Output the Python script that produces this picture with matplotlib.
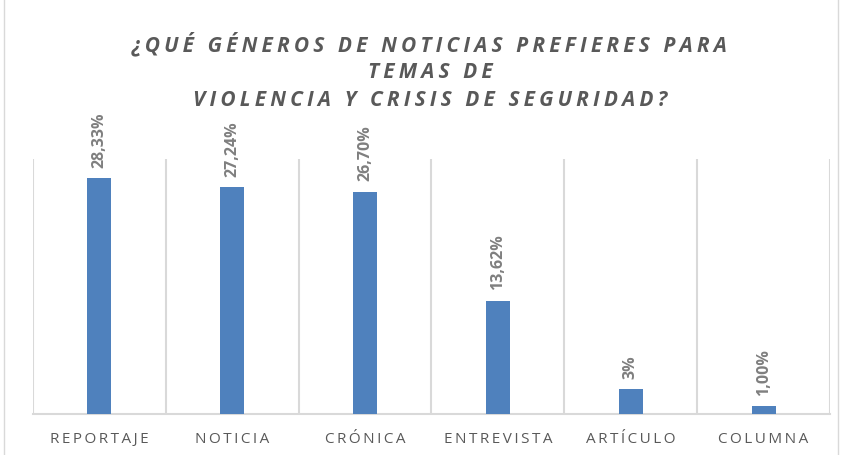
import matplotlib.pyplot as plt
from matplotlib.patches import Rectangle

categorias = ["REPORTAJE", "NOTICIA", "CRÓNICA", "ENTREVISTA", "ARTÍCULO", "COLUMNA"]
valores = [28.33, 27.24, 26.70, 13.62, 3.0, 1.00]
etiquetas = ["28,33%", "27,24%", "26,70%", "13,62%", "3%", "1,00%"]
titulo = ["¿QUÉ GÉNEROS DE NOTICIAS PREFIERES PARA", "TEMAS DE", "VIOLENCIA Y CRISIS DE SEGURIDAD?"]

def espaciar(txt, sep="\u2009"):
    return sep.join(txt)

gris = "#595959"
azul = "#4f81bd"

fig = plt.figure(figsize=(8.42, 4.56), dpi=100)
ax = fig.add_axes([33 / 842, 1 - 415 / 456, 797 / 842, 255 / 456])

x = list(range(len(categorias)))
ax.bar(x, valores, width=0.18, color=azul, zorder=3)
ax.set_xlim(-0.5, len(categorias) - 0.5)
ax.set_ylim(0, 30.6)

# lineas verticales entre categorias
for b in range(len(categorias) + 1):
    ax.axvline(b - 0.5, color="#d9d9d9", lw=1.5, zorder=1)

for xi, v, lab in zip(x, valores, etiquetas):
    ax.annotate(lab, (xi, v), xytext=(0, 8), textcoords="offset points",
                rotation=90, ha="center", va="bottom", fontsize=11.5,
                fontweight="bold", color="#7f7f7f", family="Open Sans")

ax.set_xticks(x)
ax.set_xticklabels([espaciar(c) for c in categorias], fontsize=11, color=gris,
                   family="Open Sans")
ax.tick_params(axis="x", length=0, pad=12)
ax.set_yticks([])
for s in ["top", "right", "left"]:
    ax.spines[s].set_visible(False)
ax.spines["bottom"].set_color("#d9d9d9")
ax.spines["bottom"].set_linewidth(1.5)

for i, linea in enumerate(titulo):
    fig.text(430 / 842, 1 - (44 + 28 * i) / 456, espaciar(linea), ha="center", va="center",
             fontsize=15, fontweight="bold", fontstyle="italic", color=gris,
             family="Open Sans")

# borde del grafico
fig.patches.append(Rectangle((4 / 842, -0.01), 834 / 842, 1.02, transform=fig.transFigure,
                             fill=False, edgecolor="#d9d9d9", lw=1))

fig.savefig("out.png", dpi=100)
